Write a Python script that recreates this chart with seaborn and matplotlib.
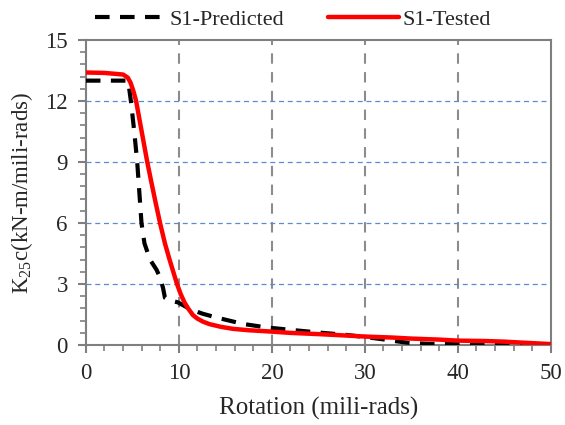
import matplotlib
matplotlib.use("Agg")
import matplotlib.pyplot as plt
from matplotlib.ticker import MultipleLocator
import seaborn as sns
import pandas as pd

# S1 stiffness degradation: predicted vs. tested
pred_rot = [0, 2, 4, 4.5, 4.6, 4.84, 5.2, 5.52, 5.75, 5.98, 6.3, 6.9, 7.6, 8.0, 8.3, 8.5,
            9.0, 9.9, 11.2, 12.5, 14.0, 16.9, 19.4, 22, 25, 28, 30, 32, 34, 35, 37, 40, 43, 47]
pred_k = [13.0, 13.0, 13.0, 13.0, 12.8, 12.0, 10.5, 9.0, 7.5, 6.0, 5.0, 4.2, 3.7, 3.3, 2.8, 2.33,
          2.2, 2.1, 1.77, 1.55, 1.36, 1.04, 0.87, 0.75, 0.62, 0.5, 0.4, 0.28, 0.15, 0.1, 0.06, 0.05, 0.03, 0.0]

test_rot = [0, 2, 4, 4.5, 4.8, 5.1, 5.4, 5.8, 6.2, 6.6, 7.0, 7.5, 8.0, 8.5, 9.0, 9.4, 9.8,
            10.2, 10.6, 11.0, 11.5, 12.0, 12.6, 13.3, 14.5, 15.8, 17.5, 19.4, 22, 25, 28, 30,
            33, 35, 38, 40, 43, 45, 47, 50]
test_k = [13.4, 13.38, 13.3, 13.15, 12.9, 12.5, 12.0, 11.0, 10.0, 9.0, 8.1, 7.0, 5.95, 5.0, 4.2,
          3.6, 3.0, 2.5, 2.1, 1.8, 1.48, 1.3, 1.15, 1.03, 0.9, 0.8, 0.73, 0.68, 0.6, 0.54, 0.47,
          0.42, 0.37, 0.32, 0.27, 0.22, 0.2, 0.17, 0.12, 0.05]

series_names = ["S1-Predicted", "S1-Tested"]
x_ticks = [0, 10, 20, 30, 40, 50]
y_ticks = [0, 3, 6, 9, 12, 15]

sns.set_style("white")
plt.rcParams["font.family"] = ["Liberation Serif", "DejaVu Serif"]
plt.rcParams["mathtext.fontset"] = "custom"
plt.rcParams["mathtext.rm"] = "Liberation Serif"
plt.rcParams["mathtext.it"] = "Liberation Serif:italic"

df_pred = pd.DataFrame({"rot": pred_rot, "k": pred_k})
df_test = pd.DataFrame({"rot": test_rot, "k": test_k})

fig = plt.figure(figsize=(5.65, 4.25), dpi=100)
ax = fig.add_axes([0.152, 0.188, 0.823, 0.718])

spine_c = "#7f7f7f"
for xv in x_ticks[1:-1]:
    ax.axvline(xv, color="#8c8c8c", lw=1.5, ls=(0, (5, 4)), zorder=1)
for yv in y_ticks[1:-1]:
    ax.axhline(yv, color="#5b8bd0", lw=0.9, ls=(0, (4, 3)), zorder=1)

sns.lineplot(data=df_pred, x="rot", y="k", ax=ax, color="black", lw=3,
             label=series_names[0], zorder=3, sort=False)
ax.lines[-1].set_dashes((3.5, 2.5))
sns.lineplot(data=df_test, x="rot", y="k", ax=ax, color="#ff0000", lw=3.2,
             label=series_names[1], zorder=4, sort=False)

ax.set_xlim(0, 50)
ax.set_ylim(0, 15)
ax.set_xticks(x_ticks)
ax.set_yticks(y_ticks)
ax.xaxis.set_minor_locator(MultipleLocator(2))
ax.yaxis.set_minor_locator(MultipleLocator(0.6))
ax.tick_params(axis="both", which="both", bottom=True, left=True, top=False, right=False,
               direction="out", color=spine_c)
ax.tick_params(axis="both", which="major", length=6, width=1.5, labelsize=16.5, pad=7)
ax.tick_params(axis="both", which="minor", length=4, width=1.2)

for s in ax.spines.values():
    s.set_color(spine_c)
    s.set_linewidth(1.5)

ax.set_xlabel("Rotation (mili-rads)", fontsize=18, labelpad=9)
ax.set_ylabel(r"K$_{25}$c(kN-m/mili-rads)", fontsize=16.5, labelpad=7)

leg = ax.legend(loc="lower center", bbox_to_anchor=(0.445, 1.0), ncol=2, frameon=False,
                fontsize=16, handlelength=3.2, columnspacing=2.0, handletextpad=0.15,
                borderaxespad=0.05)

fig.savefig("out.png", dpi=100)
